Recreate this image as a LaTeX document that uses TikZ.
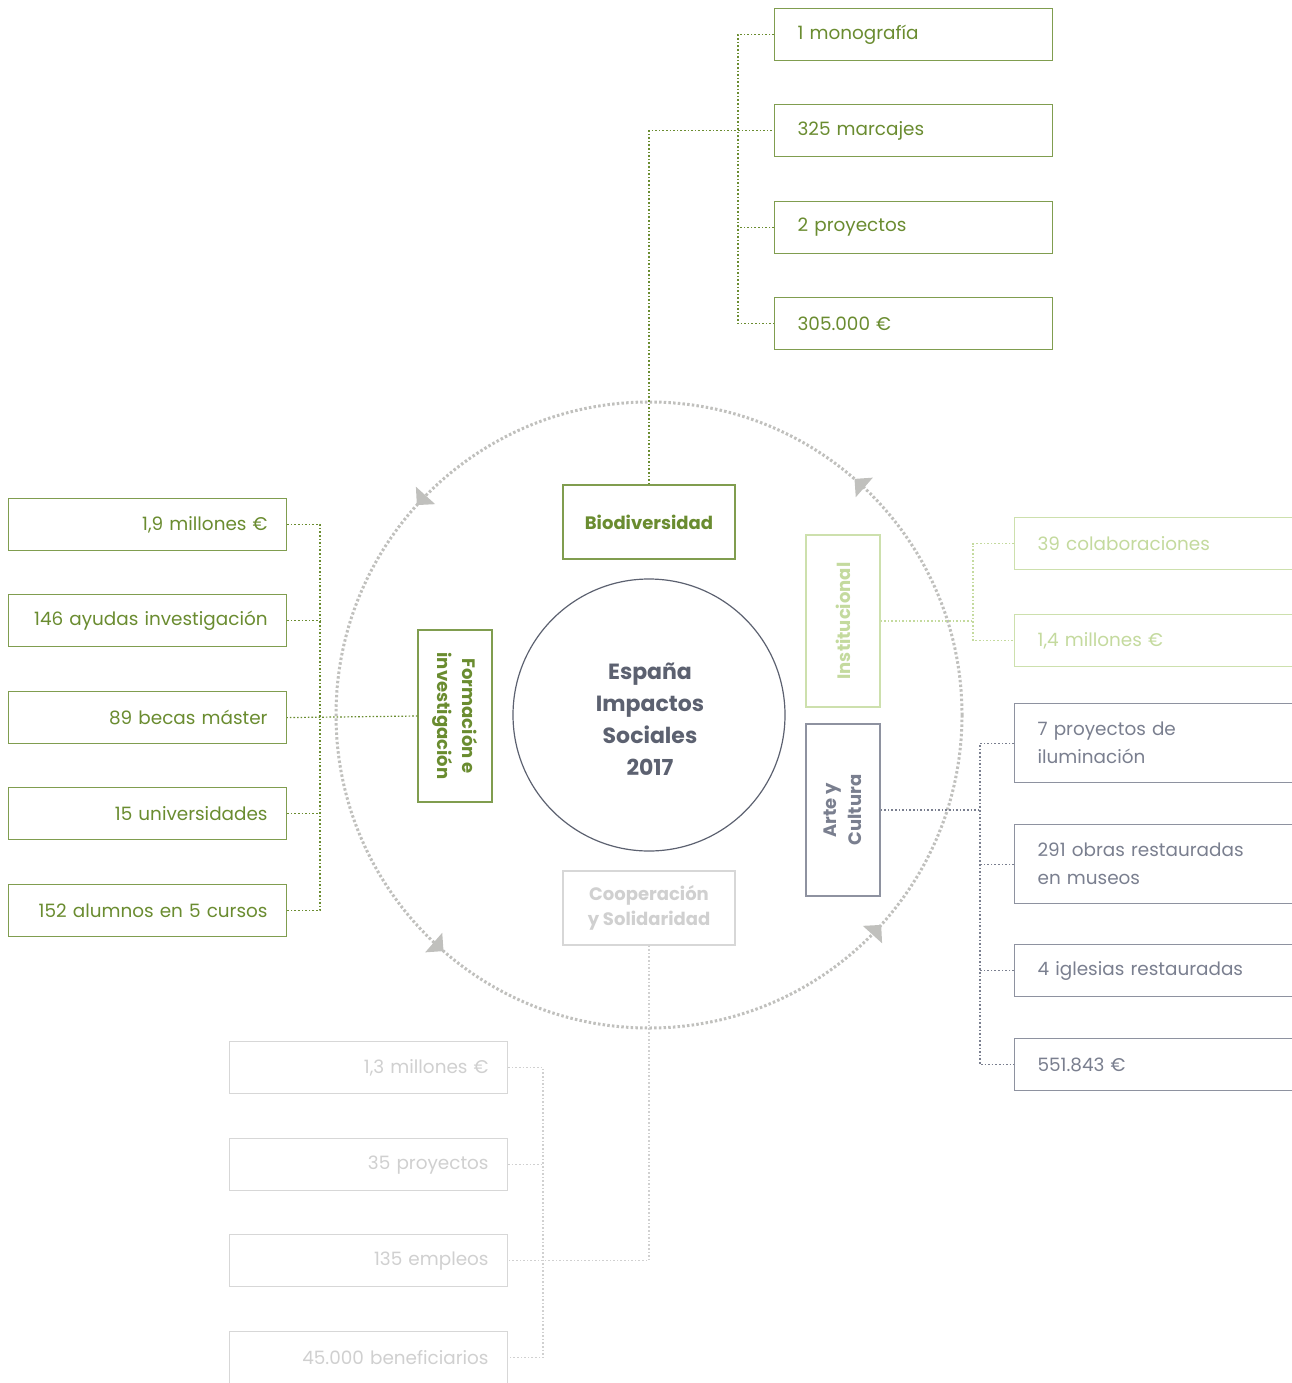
\documentclass[tikz,border=0pt]{standalone}
\usepackage{fontspec}
\setmainfont{Poppins}
\usetikzlibrary{arrows.meta,decorations.markings}

\definecolor{bioGreen}{RGB}{106,140,48}
\definecolor{instGreen}{RGB}{196,218,158}
\definecolor{arteGray}{RGB}{122,127,143}
\definecolor{coopGray}{RGB}{208,208,208}
\definecolor{ringGray}{RGB}{192,192,189}
\definecolor{coreSlate}{RGB}{92,97,112}

\tikzset{ringtip/.tip={Triangle[length=13pt,width=26pt,line width=0pt,color=ringGray]}}

\begin{document}
\begin{tikzpicture}[x=1pt,y=-1pt,
    leaf/.style={draw=#1!85,text=#1,line width=1.2pt,fill=white,anchor=north west,
        minimum height=52pt,text width=232pt,inner xsep=23pt,align=left,
        font=\fontsize{18.4}{28}\selectfont},
    leafR/.style={leaf=#1,text width=240pt,inner xsep=19pt,align=right},
    cat/.style={draw=#1!85,text=#1,line width=1.2pt,fill=white,minimum width=172pt,
        minimum height=74pt,align=center,font=\bfseries\fontsize{18}{25}\selectfont},
    conn/.style={draw=#1,line width=1.2pt,dash pattern=on 1.6pt off 2pt},
    ring/.style={draw=ringGray,line width=3pt,dash pattern=on 2.5pt off 2.2pt,
        postaction={decorate},
        decoration={markings,
            mark=at position 0.117 with {\arrowreversed{ringtip}},
            mark=at position 0.364 with {\arrowreversed{ringtip}},
            mark=at position 0.617 with {\arrowreversed{ringtip}},
            mark=at position 0.864 with {\arrowreversed{ringtip}}}}]
    % \draw[help lines] grid(1292,1383);
    \useasboundingbox (0,0) rectangle (1292,1383);

    \coordinate (bioSpine) at (738,0);
    \coordinate (formSpine) at (320,0);
    \coordinate (instSpine) at (973,0);
    \coordinate (arteSpine) at (980,0);
    \coordinate (coopSpine) at (543,0);

    \node[circle,draw=coreSlate,line width=1.2pt,minimum size=272pt,inner sep=0pt] (core) at (649,715) {};
    \node[text=coreSlate,align=center,font=\bfseries\fontsize{22}{32}\selectfont]
        (coreText) at (650,719) {España\\Impactos\\Sociales\\2017};
    \draw[ring] (core.center) circle[radius=313];

    % categories
    \node[cat=bioGreen] (bio) at (649,522) {Biodiversidad};
    \node[cat=bioGreen,rotate=-90] (form) at (455,716) {Formación e\\investigación};
    \node[cat=instGreen,rotate=90] (inst) at (843,621) {Institucional};
    \node[cat=arteGray,rotate=90] (arte) at (843,810) {Arte y\\Cultura};
    \node[cat=coopGray] (coop) at (649,908) {Cooperación\\y Solidaridad};

    % Biodiversidad
    \node[leaf=bioGreen] (mono) at (774,8) {1 monografía};
    \node[leaf=bioGreen] (marc) at (774,104) {325 marcajes};
    \node[leaf=bioGreen] (proy) at (774,201) {2 proyectos};
    \node[leaf=bioGreen] (bioEur) at (774,297) {305.000 €};
    \draw[conn=bioGreen] (bio.north) |- (marc.west);
    \draw[conn=bioGreen] (mono.west) -- (mono.west -| bioSpine) -- (bioEur.west -| bioSpine) -- (bioEur.west);
    \draw[conn=bioGreen] (proy.west) -- (proy.west -| bioSpine);

    % Formacion
    \node[leafR=bioGreen] (fm1) at (8,498) {1,9 millones €};
    \node[leafR=bioGreen] (fm2) at (8,594) {146 ayudas investigación};
    \node[leafR=bioGreen] (fm3) at (8,691) {89 becas máster};
    \node[leafR=bioGreen] (fm4) at (8,787) {15 universidades};
    \node[leafR=bioGreen] (fm5) at (8,884) {152 alumnos en 5 cursos};
    \draw[conn=bioGreen] (form.south) -- (fm3.east);
    \draw[conn=bioGreen] (fm1.east) -- (fm1.east -| formSpine) -- (fm5.east -| formSpine) -- (fm5.east);
    \foreach \n in {fm2,fm4}
        \draw[conn=bioGreen] (\n.east) -- (\n.east -| formSpine);

    % Institucional
    \node[leaf=instGreen] (in1) at (1014,517) {39 colaboraciones};
    \node[leaf=instGreen] (in2) at (1014,614) {1,4 millones €};
    \draw[conn=instGreen] (inst.south) -- (inst.south -| instSpine);
    \draw[conn=instGreen] (in1.west) -- (in1.west -| instSpine) -- (in2.west -| instSpine) -- (in2.west);

    % Arte y Cultura
    \node[leaf=arteGray,minimum height=79pt] (ar1) at (1014,703) {7 proyectos de\\iluminación};
    \node[leaf=arteGray,minimum height=79pt] (ar2) at (1014,824) {291 obras restauradas\\en museos};
    \node[leaf=arteGray] (ar3) at (1014,944) {4 iglesias restauradas};
    \node[leaf=arteGray] (ar4) at (1014,1038) {551.843 €};
    \draw[conn=arteGray] (arte.south) -- (arte.south -| arteSpine);
    \draw[conn=arteGray] (ar1.west) -- (ar1.west -| arteSpine) -- (ar4.west -| arteSpine) -- (ar4.west);
    \foreach \n in {ar2,ar3}
        \draw[conn=arteGray] (\n.west) -- (\n.west -| arteSpine);

    % Cooperacion
    \node[leafR=coopGray] (co1) at (229,1041) {1,3 millones €};
    \node[leafR=coopGray] (co2) at (229,1138) {35 proyectos};
    \node[leafR=coopGray] (co3) at (229,1234) {135 empleos};
    \node[leafR=coopGray] (co4) at (229,1331) {45.000 beneficiarios};
    \draw[conn=coopGray] (coop.south) |- (co3.east);
    \draw[conn=coopGray] (co1.east) -- (co1.east -| coopSpine) -- (co4.east -| coopSpine) -- (co4.east);
    \draw[conn=coopGray] (co2.east) -- (co2.east -| coopSpine);
\end{tikzpicture}
\end{document}
